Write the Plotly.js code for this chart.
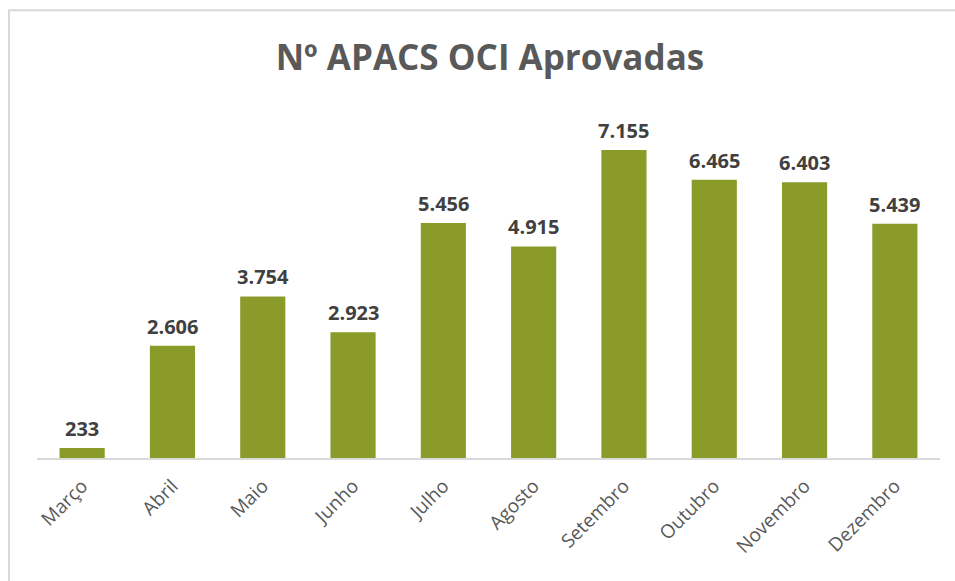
<!DOCTYPE html>
<html><head><meta charset="utf-8">
<script src="https://cdn.plot.ly/plotly-3.0.1.min.js"></script>
<style>body{margin:0;background:#fff}#c{width:955px;height:581px}</style>
</head><body><div id="c"></div>
<script>
const months = ["Março","Abril","Maio","Junho","Julho","Agosto","Setembro","Outubro","Novembro","Dezembro"];
const approved = [233, 2606, 3754, 2923, 5456, 4915, 7155, 6465, 6403, 5439];
const labels = ["233","2.606","3.754","2.923","5.456","4.915","7.155","6.465","6.403","5.439"];

const annots = months.map((m, i) => ({
  x: m, y: approved[i], xref: 'x', yref: 'y', text: '<b>' + labels[i] + '</b>',
  showarrow: false, yanchor: 'bottom', yshift: 5, borderpad: 0,
  font: {family: 'Open Sans', size: 20, color: '#404040'}
}));

Plotly.newPlot('c', [{
  type: 'bar', x: months, y: approved, width: 0.5,
  marker: {color: '#8a9b2a'},
  hoverinfo: 'none'
}], {
  width: 955, height: 581,
  margin: {l: 37, r: 15, t: 100, b: 123},
  paper_bgcolor: '#fff', plot_bgcolor: '#fff',
  title: {text: '<b>Nº APACS OCI Aprovadas</b>', x: 0.513, xanchor: 'center', y: 0.9, yanchor: 'middle',
    font: {family: 'Open Sans', size: 35, color: '#595959'}},
  xaxis: {showline: true, linecolor: '#d9d9d9', linewidth: 1.5, ticks: '', tickangle: -45, ticklabelstandoff: 8,
    tickfont: {family: 'Open Sans', size: 19, color: '#595959'}, showgrid: false, zeroline: false},
  yaxis: {range: [0, 8316], visible: false, showgrid: false, zeroline: false},
  annotations: annots,
  shapes: [{type: 'rect', xref: 'paper', yref: 'paper', x0: -0.031, x1: 1.03, y0: -0.6, y1: 1.251,
    line: {color: '#d9d9d9', width: 2}, fillcolor: 'rgba(0,0,0,0)'}],
  showlegend: false
}, {displayModeBar: false, staticPlot: true});
</script></body></html>
